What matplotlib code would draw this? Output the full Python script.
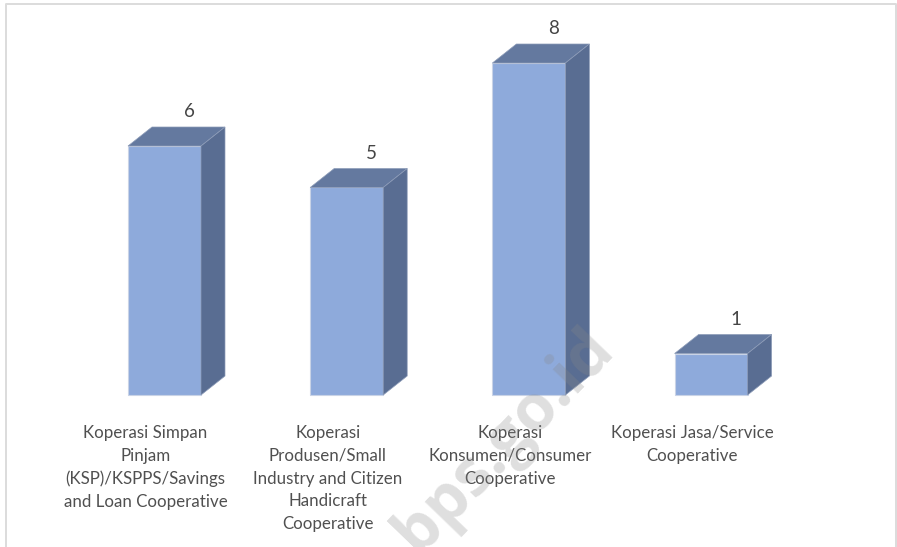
import matplotlib
matplotlib.use('Agg')
import matplotlib.pyplot as plt
from matplotlib.patches import Polygon

categories = [
    'Koperasi Simpan\nPinjam\n(KSP)/KSPPS/Savings\nand Loan Cooperative',
    'Koperasi\nProdusen/Small\nIndustry and Citizen\nHandicraft\nCooperative',
    'Koperasi\nKonsumen/Consumer\nCooperative',
    'Koperasi Jasa/Service\nCooperative',
]
values = [6, 5, 8, 1]

W, H = 897, 547
# pixel scale of the chart
x0, x_step = 164.5, 182.2
y0, y_unit = 395, 41.5
bar_w = 73 / x_step
dx = 24 / x_step
dy = 19 / y_unit

plt.rcParams['font.family'] = ['Lato', 'DejaVu Sans']
fig = plt.figure(figsize=(W / 100, H / 100), dpi=100)
ax = fig.add_axes([0, 0, 1, 1])
ax.set_xlim(-x0 / x_step, (W - x0) / x_step)
ax.set_ylim(-(H - y0) / y_unit, y0 / y_unit)
ax.axis('off')

# chart frame, cut off by the bottom of the image
ax.plot([6 / W, 6 / W, 896 / W, 896 / W], [0, 1 - 4 / H, 1 - 4 / H, 0],
        transform=ax.transAxes, color='#dcdcdc', lw=1.4, zorder=1)

for i, v in enumerate(values):
    l = i - bar_w / 2
    r = i + bar_w / 2
    ax.bar(i, v, width=bar_w, color='#8eaadb', edgecolor='#c9d3e6', lw=0.8, zorder=3)
    ax.add_patch(Polygon([(l, v), (l + dx, v + dy), (r + dx, v + dy), (r, v)],
                         facecolor='#64799f', edgecolor='#8d9cb8', lw=0.5, zorder=3))
    ax.add_patch(Polygon([(r, 0), (r + dx, dy), (r + dx, v + dy), (r, v)],
                         facecolor='#596d92', edgecolor='#8d9cb8', lw=0.5, zorder=3))
    ax.text(i + 24.5 / x_step, v + dy + 15 / y_unit, str(v), ha='center', va='center',
            fontsize=13.5, color='#454545', zorder=4)
    ax.text(i - 19 / x_step, -30 / y_unit, categories[i], ha='center', va='top',
            fontsize=12.2, color='#505050', linespacing=1.52, zorder=4)

# watermark over the chart
ax.text(504 / W, 1 - 441 / H, 'bps.go.id', transform=ax.transAxes, rotation=46,
        ha='center', va='center', rotation_mode='anchor', fontsize=46,
        fontweight='bold', family=['Open Sans', 'DejaVu Sans'],
        color='#888888', alpha=0.27, zorder=5)

fig.savefig('out.png', dpi=100)
